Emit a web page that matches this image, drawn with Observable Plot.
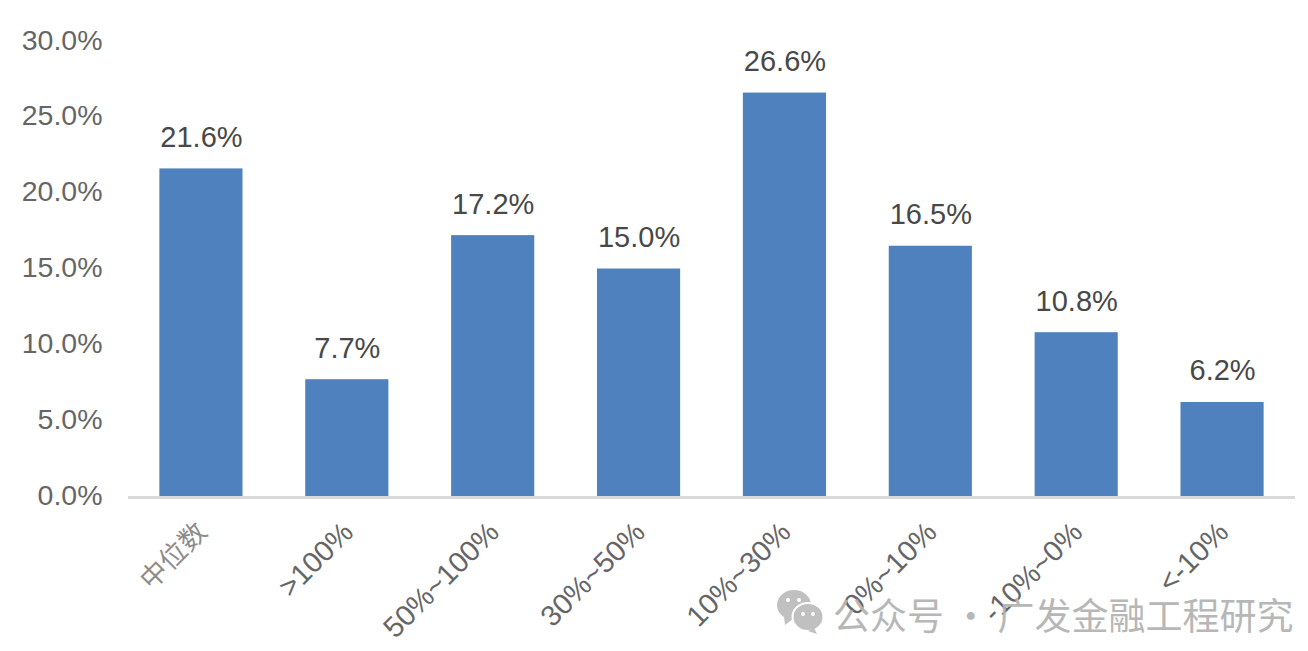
<!DOCTYPE html>
<html lang="zh">
<head>
<meta charset="utf-8">
<script src="https://cdn.jsdelivr.net/npm/d3@7"></script>
<script src="https://cdn.jsdelivr.net/npm/@observablehq/plot@0.6"></script>
<style>
html,body{margin:0;padding:0;background:#fff;overflow:hidden}
#wrap{position:relative;width:1308px;height:651px}
#mark{position:absolute;left:775px;top:587px;height:48px;display:flex;align-items:center;color:#b4b4b4;opacity:.95;
font-family:"Noto Sans CJK SC",sans-serif;font-size:37px;white-space:nowrap;pointer-events:none}
#mark svg{margin-right:8px}
#mark span{position:relative;top:3px}
</style>
</head>
<body>
<div id="wrap"></div>
<script>
const categories = ["中位数", ">100%", "50%~100%", "30%~50%", "10%~30%", "0%~10%", "-10%~0%", "<-10%"];
const values = [21.6, 7.7, 17.2, 15.0, 26.6, 16.5, 10.8, 6.2];
const yTicks = [0, 5, 10, 15, 20, 25, 30];
const table = categories.map((c, i) => ({c, v: values[i]}));
const pct = d => d.toFixed(1) + "%";
const font = '"Liberation Sans","Noto Sans CJK SC",sans-serif';

const chart = Plot.plot({
  width: 1308, height: 651,
  marginLeft: 128, marginRight: 13, marginTop: 41, marginBottom: 155,
  style: {background: "#fff", fontFamily: font, fontSize: "29px", overflow: "visible"},
  x: {domain: categories, paddingInner: 0.43, paddingOuter: 0.215, align: 0.5, round: false, label: null},
  y: {domain: [0, 30], label: null},
  marks: [
    Plot.barY(table, {x: "c", y: "v", fill: "#4e81bd"}),
    Plot.ruleY([0], {stroke: "#d9d9d9", strokeWidth: 3, dy: 1}),
    Plot.axisY({ticks: yTicks, tickSize: 0, tickPadding: 26, dy: -1, tickFormat: pct, color: "#666666", fontSize: 28.5, label: null}),
    Plot.axisX({tickSize: 0, tickRotate: -45, tickPadding: 31, dx: 1, color: "#666666", fontSize: 29, label: null}),
    Plot.text(table, {x: "c", y: "v", text: d => pct(d.v), lineAnchor: "bottom", dy: -22, fill: "#484848", fontSize: 29})
  ]
});
d3.select(chart).selectAll("text").filter(function () { return this.textContent === categories[0]; })
  .attr("fill", "#8c8c8c").style("fill", "#8c8c8c").style("font-size", "27px");
const wrap = document.getElementById("wrap");
wrap.appendChild(chart);
const mark = document.createElement("div");
mark.id = "mark";
mark.innerHTML = '<svg width="50" height="46" viewBox="0 0 48 46"><ellipse cx="18" cy="17" rx="17" ry="15" fill="#bdbdbd"/><path d="M8 28l1 9 8-6z" fill="#bdbdbd"/><ellipse cx="32" cy="29" rx="15.5" ry="14" fill="#bdbdbd" stroke="#fff" stroke-width="2"/><path d="M38 40l3 6-9-3z" fill="#bdbdbd"/><circle cx="12" cy="12" r="2" fill="#fff"/><circle cx="23" cy="12" r="2" fill="#fff"/><circle cx="27" cy="26" r="2" fill="#fff"/><circle cx="37" cy="26" r="2" fill="#fff"/></svg><span>公众号 · 广发金融工程研究</span>';
wrap.appendChild(mark);
</script>
</body>
</html>
